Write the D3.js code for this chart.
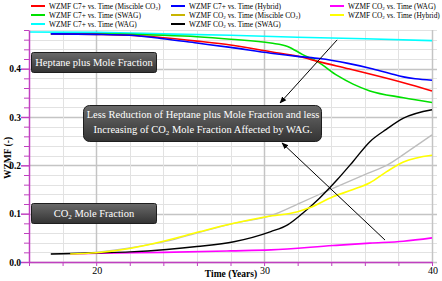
<!DOCTYPE html>
<html lang="en">
<head>
    <meta charset="UTF-8">
    <title>WZMF vs Time</title>
    <script src="https://cdn.jsdelivr.net/npm/d3@7"></script>
    <style>
        body { margin: 0; background: #fff; }
        svg text { font-family: "Liberation Serif", "Times New Roman", serif; }
    </style>
</head>
<body>
<div id="chart"></div>
<script>
    // series values [time (years), WZMF]
    var c7Miscible = [[17.3,.472],[20,.471],[22,.469],[24,.464],[26,.457],[28,.449],[30.4,.435],[32.1,.425],[33.3,.414],[35,.400],[36.3,.389],[38.3,.371],[40,.354]];
    var c7Swag = [[17.3,.472],[20,.472],[22,.471],[24,.469],[26,.466],[28,.461],[30.4,.453],[31.4,.446],[32.3,.429],[33.2,.414],[34.35,.386],[35.3,.368],[36.3,.354],[38.3,.340],[40,.330]];
    var c7Wag = [[16,.476],[20,.475],[24,.472],[28,.469],[32,.465],[36,.462],[40,.458]];
    var c7Hybrid = [[17.3,.472],[20,.471],[22,.469],[24,.462],[26,.453],[28,.444],[30.4,.432],[32.1,.425],[33.3,.421],[35,.411],[36.3,.401],[37.5,.390],[38.3,.383],[39,.379],[40,.376]];
    var co2Miscible = [[17.3,.0166],[19,.017],[20.2,.021],[22,.029],[24.2,.043],[26.2,.062],[28.2,.080],[30.4,.096],[32.2,.123],[34.2,.154],[36.2,.184],[37.3,.200],[38.7,.232],[40,.263]];
    var co2Swag = [[17.3,.0166],[20.2,.019],[22,.021],[24.2,.026],[26,.032],[28.2,.042],[30.4,.063],[31.4,.077],[32.3,.101],[33.3,.132],[34.35,.170],[35.3,.208],[36.3,.249],[37.3,.275],[38.3,.2975],[40,.315]];
    var co2Wag = [[18.45,.0166],[20.2,.018],[24,.020],[28,.023],[30.4,.025],[34.1,.034],[36.3,.039],[38.3,.043],[40,.050]];
    var co2Hybrid = [[18.45,.0166],[20,.019],[22,.028],[24,.043],[26.2,.063],[28.2,.080],[30.2,.094],[32,.104],[32.7,.112],[34.1,.135],[35.3,.150],[36.3,.164],[37.3,.187],[38.3,.207],[40,.221]];

    var xTickLabels = [20, 30, 40];
    var yTickLabels = [0, 0.1, 0.2, 0.3, 0.4];

    var series = [
        {name: 'WZMF C7+ vs. Time (Miscible CO', sub: true, values: c7Miscible, color: '#ff0000', key: '#ff0000', w: 1.6, col: 0, row: 0},
        {name: 'WZMF C7+ vs. Time (SWAG)', values: c7Swag, color: '#00e000', key: '#00e000', w: 1.6, col: 0, row: 1},
        {name: 'WZMF C7+ vs. Time (WAG)', values: c7Wag, color: '#00ffff', key: '#00ffff', w: 1.6, col: 0, row: 2},
        {name: 'WZMF C7+ vs. Time (Hybrid)', values: c7Hybrid, color: '#0000ff', key: '#0000ff', w: 1.6, col: 1, row: 0},
        {name: 'WZMF CO', nameTail: ' vs. Time (Miscible CO', sub: true, values: co2Miscible, color: '#bdbdbd', key: '#c8b400', w: 1.3, col: 1, row: 1},
        {name: 'WZMF CO', nameTail: ' vs. Time (SWAG)', values: co2Swag, color: '#000000', key: '#000000', w: 1.4, col: 1, row: 2},
        {name: 'WZMF CO', nameTail: ' vs. Time (WAG)', values: co2Wag, color: '#ff00ff', key: '#ff00ff', w: 1.6, col: 2, row: 0},
        {name: 'WZMF CO', nameTail: ' vs. Time (Hybrid)', values: co2Hybrid, color: '#ffff00', key: '#ffff00', w: 1.6, col: 2, row: 1}
    ];
    // draw order: grey under the others
    var drawOrder = [4, 6, 5, 7, 2, 1, 0, 3];

    var width = 442, height = 281;
    var plotLeft = 29, plotRight = 432, plotTop = 30, plotBottom = 262;

    var x = d3.scaleLinear().domain([16, 40]).range([plotLeft, plotRight]);
    var y = d3.scaleLinear().domain([0, 0.48]).range([plotBottom, plotTop]);

    var svg = d3.select('#chart').append('svg')
        .attr('width', width)
        .attr('height', height);

    var defs = svg.append('defs');
    var grad = defs.append('linearGradient').attr('id', 'boxFill')
        .attr('x1', 0).attr('y1', 0).attr('x2', 0).attr('y2', 1);
    grad.append('stop').attr('offset', '0%').attr('stop-color', '#6a6a6a');
    grad.append('stop').attr('offset', '100%').attr('stop-color', '#333333');

    defs.append('marker').attr('id', 'arrow')
        .attr('viewBox', '0 0 10 10').attr('refX', 9).attr('refY', 5)
        .attr('markerWidth', 7).attr('markerHeight', 7)
        .attr('markerUnits', 'userSpaceOnUse')
        .attr('orient', 'auto')
        .append('path').attr('d', 'M0,1 L10,5 L0,9 Z').attr('fill', '#000');

    function isMajorY(d) { return Math.abs(d * 10 - Math.round(d * 10)) < 1e-6; }

    // grid
    var xGrid = d3.range(16, 40.01, 2);
    var yGrid = d3.range(0, 0.481, 0.02);

    svg.append('g').selectAll('line')
        .data(yGrid)
        .join('line')
        .attr('x1', plotLeft).attr('x2', plotRight + 5)
        .attr('y1', function(d) { return Math.round(y(d)) + 0.5; })
        .attr('y2', function(d) { return Math.round(y(d)) + 0.5; })
        .attr('stroke', function(d) { return isMajorY(d) ? '#c4c4c4' : '#e2e2e2'; })
        .attr('stroke-width', function(d) { return isMajorY(d) ? 1.5 : 1; });

    svg.append('g').selectAll('line')
        .data(xGrid)
        .join('line')
        .attr('x1', function(d) { return Math.round(x(d)) + 0.5; })
        .attr('x2', function(d) { return Math.round(x(d)) + 0.5; })
        .attr('y1', plotTop).attr('y2', plotBottom)
        .attr('stroke', function(d) { return d % 10 === 0 ? '#c4c4c4' : '#e2e2e2'; })
        .attr('stroke-width', function(d) { return d % 10 === 0 ? 1.5 : 1; });

    // curves
    var line = d3.line()
        .x(function(d) { return x(d[0]); })
        .y(function(d) { return y(d[1]); })
        .curve(d3.curveMonotoneX);

    svg.append('g').selectAll('path')
        .data(drawOrder.map(function(i) { return series[i]; }))
        .join('path')
        .attr('d', function(d) { return line(d.values); })
        .attr('fill', 'none')
        .attr('stroke', function(d) { return d.color; })
        .attr('stroke-width', function(d) { return d.w; });

    // axes (magenta)
    var axisColor = '#c040c0';
    var yAxis = svg.append('g').attr('transform', 'translate(' + plotLeft + ',0)')
        .call(d3.axisLeft(y).tickValues(yGrid).tickSizeOuter(0).tickFormat(''));
    var xAxis = svg.append('g').attr('transform', 'translate(0,' + plotBottom + ')')
        .call(d3.axisBottom(x).tickValues(xGrid).tickSize(4).tickSizeOuter(0).tickFormat(''));
    [yAxis, xAxis].forEach(function(a) {
        a.select('.domain').attr('stroke', axisColor).attr('stroke-width', 1.5);
        a.selectAll('.tick line').attr('stroke', axisColor).attr('stroke-width', 1);
    });
    yAxis.selectAll('.tick line')
        .attr('x2', function(d) { return isMajorY(d) ? -8 : -5; })
        .attr('stroke-width', function(d) { return isMajorY(d) ? 1.5 : 1; });

    svg.append('g').selectAll('text')
        .data(yTickLabels)
        .join('text')
        .attr('x', plotLeft - 8)
        .attr('y', function(d) { return y(d) + 3.5; })
        .attr('text-anchor', 'end')
        .attr('font-size', 9.5).attr('font-weight', 'bold')
        .text(function(d) { return d3.format('.1f')(d); });

    svg.append('g').selectAll('text')
        .data(xTickLabels)
        .join('text')
        .attr('x', function(d) { return x(d) + 1; })
        .attr('y', plotBottom + 12)
        .attr('text-anchor', 'middle')
        .attr('font-size', 10)
        .text(function(d) { return d; });

    svg.append('text')
        .attr('x', 231).attr('y', 277)
        .attr('text-anchor', 'middle')
        .attr('font-size', 9.5).attr('font-weight', 'bold')
        .text('Time (Years)');

    svg.append('text')
        .attr('transform', 'translate(11,158) rotate(-90)')
        .attr('text-anchor', 'middle')
        .attr('font-size', 9.5).attr('font-weight', 'bold')
        .text('WZMF (-)');

    // legend
    var legX = [31, 171, 330], legY = [6, 15, 24];
    var leg = svg.append('g').selectAll('g')
        .data(series)
        .join('g')
        .attr('transform', function(d) { return 'translate(' + legX[d.col] + ',' + legY[d.row] + ')'; });
    leg.append('line')
        .attr('x1', 0).attr('x2', 14).attr('y1', 0).attr('y2', 0)
        .attr('stroke', function(d) { return d.key; })
        .attr('stroke-width', 2);
    leg.append('text')
        .attr('x', 18).attr('y', 2.6)
        .attr('font-size', 7.4)
        .each(function(d) {
            var t = d3.select(this);
            t.append('tspan').text(d.name);
            if (d.nameTail) {
                t.append('tspan').attr('font-size', 5).attr('dy', 1.5).text('2');
                t.append('tspan').attr('dy', -1.5).text(d.nameTail);
            }
            if (d.sub) {
                t.append('tspan').attr('font-size', 5).attr('dy', 1.5).text('2');
                t.append('tspan').attr('dy', -1.5).text(')');
            }
        });

    // annotation boxes
    function box(x0, y0, w, h, r) {
        svg.append('rect')
            .attr('x', x0).attr('y', y0).attr('width', w).attr('height', h)
            .attr('rx', r).attr('ry', r)
            .attr('fill', 'url(#boxFill)')
            .attr('stroke', '#1e1e1e').attr('stroke-width', 1);
    }

    box(31.5, 52.5, 125, 20, 2);
    svg.append('text').attr('x', 94).attr('y', 66)
        .attr('text-anchor', 'middle').attr('fill', '#fff').attr('font-size', 10.5)
        .text('Heptane plus Mole Fraction');

    box(31.5, 203.5, 125, 20, 2);
    var co2Label = svg.append('text').attr('x', 94).attr('y', 217)
        .attr('text-anchor', 'middle').attr('fill', '#fff').attr('font-size', 10.5);
    co2Label.append('tspan').text('CO');
    co2Label.append('tspan').attr('font-size', 7).attr('dy', 2).text('2');
    co2Label.append('tspan').attr('dy', -2).text(' Mole Fraction');

    box(83.5, 105.5, 238, 36, 6);
    svg.append('text').attr('x', 203).attr('y', 118)
        .attr('text-anchor', 'middle').attr('fill', '#fff').attr('font-size', 10.5)
        .text('Less Reduction of Heptane plus Mole Fraction and less');
    var line2 = svg.append('text').attr('x', 203).attr('y', 132.5)
        .attr('text-anchor', 'middle').attr('fill', '#fff').attr('font-size', 10.5);
    line2.append('tspan').text('Increasing of CO');
    line2.append('tspan').attr('font-size', 7).attr('dy', 2).text('2');
    line2.append('tspan').attr('dy', -2).text(' Mole Fraction Affected by WAG.');

    // arrows, in data units
    var arrows = [
        {from: [34.35, 0.4596], to: [30.95, 0.329]},
        {from: [37.2, 0.0455], to: [31.07, 0.2464]}
    ];
    svg.append('g').selectAll('line')
        .data(arrows)
        .join('line')
        .attr('x1', function(d) { return x(d.from[0]); })
        .attr('y1', function(d) { return y(d.from[1]); })
        .attr('x2', function(d) { return x(d.to[0]); })
        .attr('y2', function(d) { return y(d.to[1]); })
        .attr('stroke', '#000').attr('stroke-width', 1)
        .attr('marker-end', 'url(#arrow)');
</script>
</body>
</html>
